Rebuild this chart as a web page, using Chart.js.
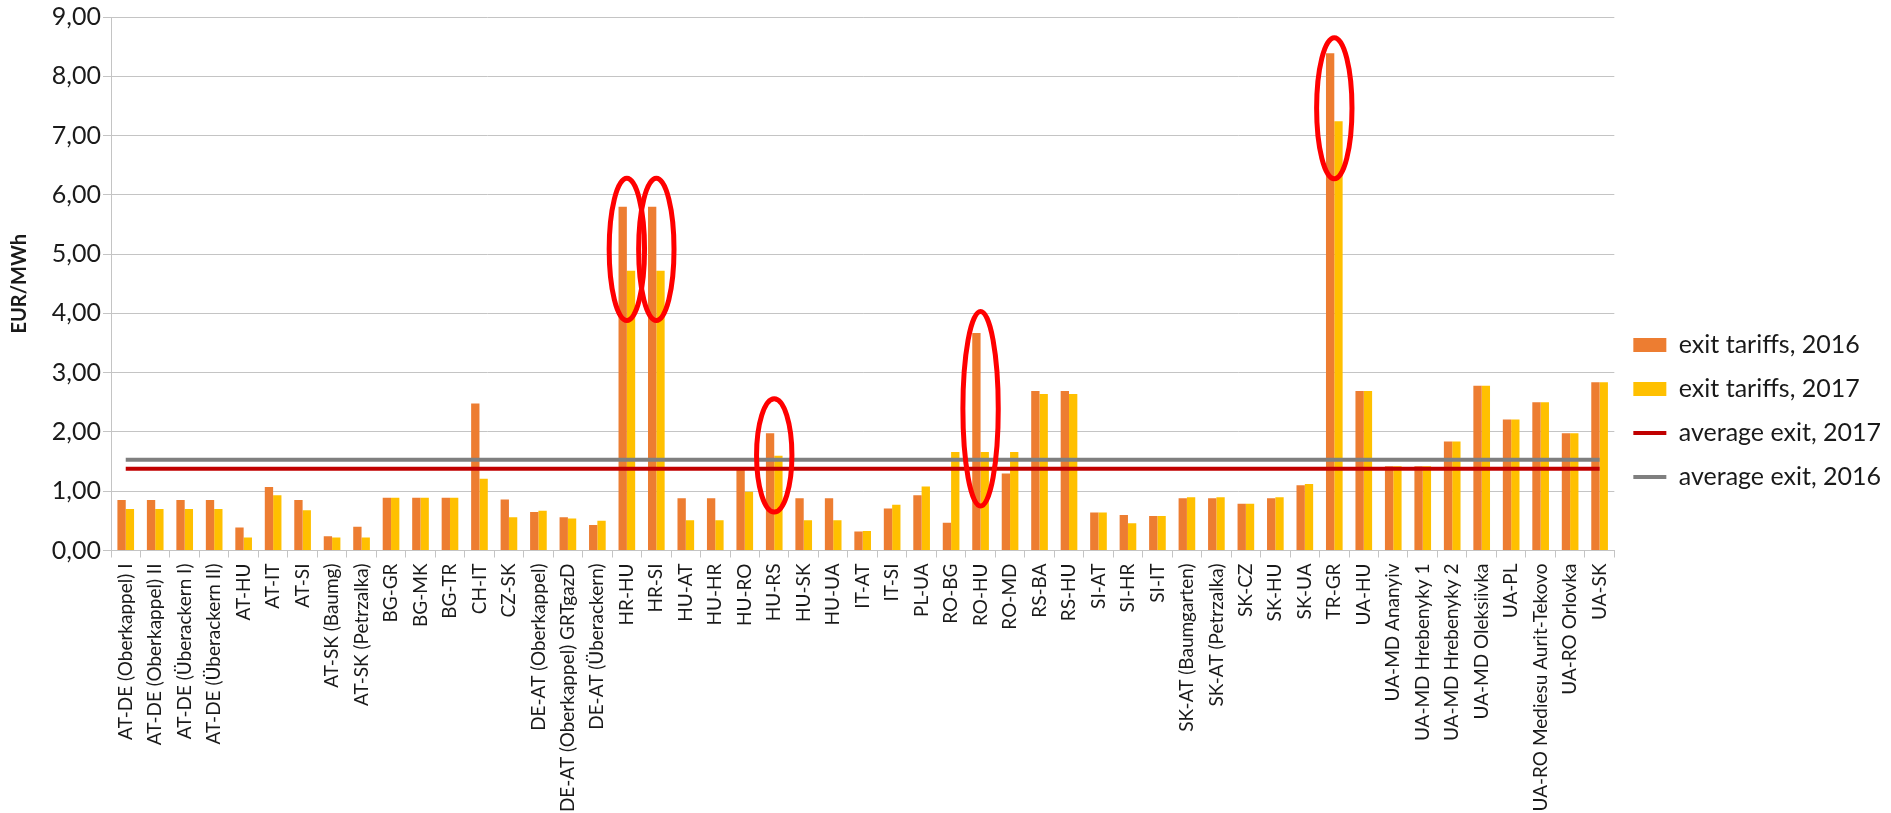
<!DOCTYPE html>
<html>
<head>
<meta charset="utf-8">
<script src="https://cdn.jsdelivr.net/npm/chart.js@4/dist/chart.umd.min.js"></script>
<style>
  html, body { margin: 0; padding: 0; background: #ffffff; }
  #wrap { width: 1891px; height: 813px; position: relative; }
</style>
</head>
<body>
<div id="wrap"><canvas id="chart"></canvas></div>
<script>
// Interconnection points (exit direction)
const categories = [
  'AT-DE (Oberkappel) I', 'AT-DE (Oberkappel) II', 'AT-DE (Überackern I)', 'AT-DE (Überackern II)',
  'AT-HU', 'AT-IT', 'AT-SI', 'AT-SK (Baumg)', 'AT-SK (Petrzalka)', 'BG-GR', 'BG-MK', 'BG-TR',
  'CH-IT', 'CZ-SK', 'DE-AT (Oberkappel)', 'DE-AT (Oberkappel) GRTgazD', 'DE-AT (Überackern)',
  'HR-HU', 'HR-SI', 'HU-AT', 'HU-HR', 'HU-RO', 'HU-RS', 'HU-SK', 'HU-UA', 'IT-AT', 'IT-SI',
  'PL-UA', 'RO-BG', 'RO-HU', 'RO-MD', 'RS-BA', 'RS-HU', 'SI-AT', 'SI-HR', 'SI-IT',
  'SK-AT (Baumgarten)', 'SK-AT (Petrzalka)', 'SK-CZ', 'SK-HU', 'SK-UA', 'TR-GR', 'UA-HU',
  'UA-MD Ananyiv', 'UA-MD Hrebenyky 1', 'UA-MD Hrebenyky 2', 'UA-MD Oleksiivka', 'UA-PL',
  'UA-RO Mediesu Aurit-Tekovo', 'UA-RO Orlovka', 'UA-SK'
];

// Exit tariffs, EUR/MWh
const exitTariffs2016 = [
  0.85, 0.85, 0.85, 0.85, 0.39, 1.07, 0.85, 0.24, 0.40, 0.89, 0.89, 0.89,
  2.48, 0.86, 0.65, 0.56, 0.43, 5.80, 5.80, 0.88, 0.88, 1.36, 1.98, 0.88, 0.88, 0.32, 0.71,
  0.93, 0.47, 3.67, 1.30, 2.69, 2.69, 0.64, 0.60, 0.58, 0.88, 0.88, 0.79, 0.88, 1.10, 8.39,
  2.69, 1.42, 1.42, 1.84, 2.78, 2.21, 2.50, 1.98, 2.84
];
const exitTariffs2017 = [
  0.70, 0.70, 0.70, 0.70, 0.22, 0.93, 0.68, 0.22, 0.22, 0.89, 0.89, 0.89,
  1.21, 0.56, 0.67, 0.54, 0.50, 4.72, 4.72, 0.51, 0.51, 0.99, 1.60, 0.51, 0.51, 0.33, 0.77,
  1.08, 1.66, 1.66, 1.66, 2.64, 2.64, 0.64, 0.46, 0.58, 0.90, 0.90, 0.79, 0.90, 1.12, 7.24,
  2.69, 1.42, 1.42, 1.84, 2.78, 2.21, 2.50, 1.98, 2.84
];

// Averages over all points
const averageExit2017 = 1.38;
const averageExit2016 = 1.53;

// Y axis ticks
const yTicks = [0, 1, 2, 3, 4, 5, 6, 7, 8, 9];

// Points circled in red, with the value range each ring covers
const highlights = [
  { label: 'HR-HU', from: 3.88, to: 6.28 },
  { label: 'HR-SI', from: 3.88, to: 6.28 },
  { label: 'HU-RS', from: 0.65, to: 2.56 },
  { label: 'RO-HU', from: 0.75, to: 4.03 },
  { label: 'TR-GR', from: 6.27, to: 8.65 }
];

const FONT = 'Lato, "Open Sans", sans-serif';
const TEXT = '#1a1a1a';
const GRID = '#C4C4C4';

// Red rings drawn over the bars, sized from the value scale
const ringPlugin = {
  id: 'rings',
  afterDatasetsDraw(chart) {
    const { ctx, scales: { x, y } } = chart;
    const step = x.getPixelForValue(1) - x.getPixelForValue(0);
    ctx.save();
    ctx.strokeStyle = '#FF0000';
    ctx.lineWidth = 5;
    highlights.forEach(h => {
      const cx = x.getPixelForValue(categories.indexOf(h.label));
      const top = y.getPixelForValue(h.to);
      const bottom = y.getPixelForValue(h.from);
      ctx.beginPath();
      ctx.ellipse(cx, (top + bottom) / 2, step * 0.6, (bottom - top) / 2, 0, 0, Math.PI * 2);
      ctx.stroke();
    });
    ctx.restore();
  }
};

// Horizontal average line from the first to the last category
const lineData = v => [
  { x: categories[0], y: v },
  { x: categories[categories.length - 1], y: v }
];

new Chart(document.getElementById('chart'), {
  type: 'bar',
  data: {
    labels: categories,
    datasets: [
      {
        label: 'exit tariffs, 2016',
        data: exitTariffs2016,
        backgroundColor: '#ED7D31',
        categoryPercentage: 0.565,
        barPercentage: 1.0,
        order: 1
      },
      {
        label: 'exit tariffs, 2017',
        data: exitTariffs2017,
        backgroundColor: '#FFC000',
        categoryPercentage: 0.565,
        barPercentage: 1.0,
        order: 1
      },
      {
        type: 'line',
        label: 'average exit, 2017',
        data: lineData(averageExit2017),
        borderColor: '#C00000',
        backgroundColor: '#C00000',
        borderWidth: 4,
        pointRadius: 0,
        order: 0
      },
      {
        type: 'line',
        label: 'average exit, 2016',
        data: lineData(averageExit2016),
        borderColor: '#7F7F7F',
        backgroundColor: '#7F7F7F',
        borderWidth: 4,
        pointRadius: 0,
        order: 0
      }
    ]
  },
  options: {
    responsive: true,
    maintainAspectRatio: false,
    animation: false,
    events: [],
    layout: { padding: { top: 9, right: 0, bottom: 0, left: 0 } },
    plugins: {
      tooltip: { enabled: false },
      legend: {
        position: 'right',
        align: 'center',
        labels: {
          color: TEXT,
          font: { family: FONT, size: 25 },
          usePointStyle: true,
          pointStyleWidth: 33,
          boxHeight: 14,
          padding: 19,
          generateLabels(chart) {
            return chart.data.datasets.map((ds, i) => {
              const isLine = ds.type === 'line';
              return {
                text: ds.label,
                datasetIndex: i,
                fillStyle: isLine ? ds.borderColor : ds.backgroundColor,
                strokeStyle: isLine ? ds.borderColor : ds.backgroundColor,
                lineWidth: isLine ? 4 : 0,
                pointStyle: isLine ? 'line' : 'rect',
                fontColor: TEXT,
                hidden: false
              };
            });
          }
        }
      }
    },
    scales: {
      x: {
        grid: {
          offset: true,
          drawOnChartArea: false,
          drawTicks: true,
          tickLength: 7,
          color: GRID
        },
        border: { color: GRID, width: 1 },
        ticks: {
          autoSkip: false,
          maxRotation: 90,
          minRotation: 90,
          padding: 6,
          color: TEXT,
          font: { family: FONT, size: 19 }
        },
        afterFit(scale) { scale.height = 262.5; }
      },
      y: {
        min: 0,
        max: 9,
        afterBuildTicks(scale) { scale.ticks = yTicks.map(v => ({ value: v })); },
        grid: { color: GRID, tickLength: 8, lineWidth: 1 },
        border: { color: GRID, width: 1 },
        ticks: {
          padding: 2,
          color: TEXT,
          font: { family: FONT, size: 25 },
          callback: v => v.toFixed(2).replace('.', ',')
        },
        title: {
          display: true,
          text: 'EUR/MWh',
          color: TEXT,
          font: { family: FONT, size: 20, weight: 'bold' },
          padding: { top: 8, bottom: 0 }
        },
        afterFit(scale) { scale.width = 111; }
      }
    }
  },
  plugins: [ringPlugin]
});
</script>
</body>
</html>
